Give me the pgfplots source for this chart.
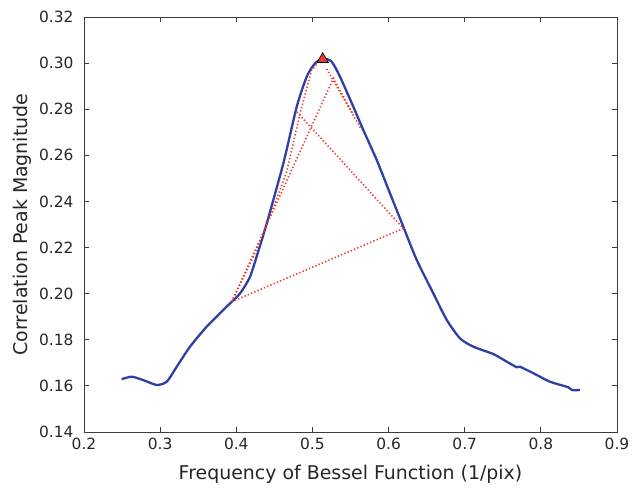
\documentclass[border=0pt]{standalone}
\usepackage{pgfplots}
\pgfplotsset{compat=1.18}
\usepackage{fontspec}
\setmainfont{DejaVu Sans}
\definecolor{curveblue}{RGB}{46,64,166}
\definecolor{dotred}{RGB}{235,60,50}
\definecolor{axgray}{RGB}{60,60,60}
\begin{document}
\begin{tikzpicture}
\useasboundingbox (0,0) rectangle (632bp,488bp);
\begin{axis}[
  at={(84bp,56bp)}, anchor=south west,
  scale only axis, width=533bp, height=415bp,
  xmin=0.2, xmax=0.9, ymin=0.14, ymax=0.32,
  xtick={0.2,0.3,0.4,0.5,0.6,0.7,0.8,0.9},
  ytick={0.14,0.16,0.18,0.20,0.22,0.24,0.26,0.28,0.30,0.32},
  tick pos=both, tick align=inside,
  major tick length=5bp,
  axis line style={axgray, line width=0.8bp},
  every tick/.style={axgray, line width=0.8bp},
  /pgf/number format/assume math mode=true,
  xticklabel style={/pgf/number format/fixed, /pgf/number format/precision=1, /pgf/number format/fixed zerofill, yshift=-3bp},
  yticklabel style={/pgf/number format/fixed, /pgf/number format/precision=2, /pgf/number format/fixed zerofill, xshift=-7bp},
  scaled ticks=false,
  ticklabel style={font=\fontsize{15.5}{18}\selectfont, text=black!85},
  label style={font=\fontsize{19}{22}\selectfont, text=black!85},
  xlabel={Frequency of Bessel Function (1/pix)},
  ylabel={Correlation Peak Magnitude},
  xlabel style={at={(axis description cs:0.5,-0.1133)}, anchor=base},
  ylabel style={at={(axis description cs:-0.1069,0.5)}, anchor=base},
  clip=false,
]
\addplot[curveblue, line width=2.3bp, smooth, tension=0.4] coordinates {
(0.2495,0.1629) (0.2626,0.1640) (0.2779,0.1625) (0.2955,0.1604) (0.3086,0.1618)
(0.3218,0.1683) (0.3392,0.1770) (0.3611,0.1857) (0.3786,0.1915) (0.3918,0.1958)
(0.4049,0.2001) (0.4180,0.2073) (0.4290,0.2185) (0.4400,0.2305) (0.4618,0.2565)
(0.4794,0.2811) (0.4925,0.2941) (0.5034,0.2999) (0.5143,0.3020) (0.5253,0.3006)
(0.5362,0.2941) (0.5537,0.2811) (0.5668,0.2710) (0.5844,0.2580) (0.6019,0.2435)
(0.6194,0.2290) (0.6370,0.2146) (0.6588,0.2001) (0.6764,0.1886) (0.6938,0.1806)
(0.7113,0.1770) (0.7376,0.1738) (0.7552,0.1705) (0.7683,0.1681) (0.7726,0.1683)
(0.7901,0.1655) (0.8120,0.1618) (0.8361,0.1594) (0.8406,0.1582) (0.8514,0.1582)
};
\pgfplotsset{reddot/.style={dotred, line width=1.6bp, dash pattern=on 1.3bp off 2.2bp}}
\addplot[reddot] coordinates {(0.394,0.1965) (0.6194,0.2283) (0.4794,0.2789)};
\addplot[reddot] coordinates {(0.394,0.1965) (0.5275,0.2934) (0.554,0.2775)};
\addplot[reddot] coordinates {(0.394,0.1965) (0.4224,0.2160) (0.4443,0.2334) (0.4662,0.2529) (0.4837,0.2782) (0.4990,0.2970) (0.5073,0.3000)};
\addplot[reddot] coordinates {(0.5187,0.2975) (0.5647,0.2710)};
\addplot[only marks, mark=triangle*, mark size=6.5bp, mark options={fill=dotred, draw=black, line width=0.7bp, solid}] coordinates {(0.5135,0.3017)};
\end{axis}
\end{tikzpicture}
\end{document}
